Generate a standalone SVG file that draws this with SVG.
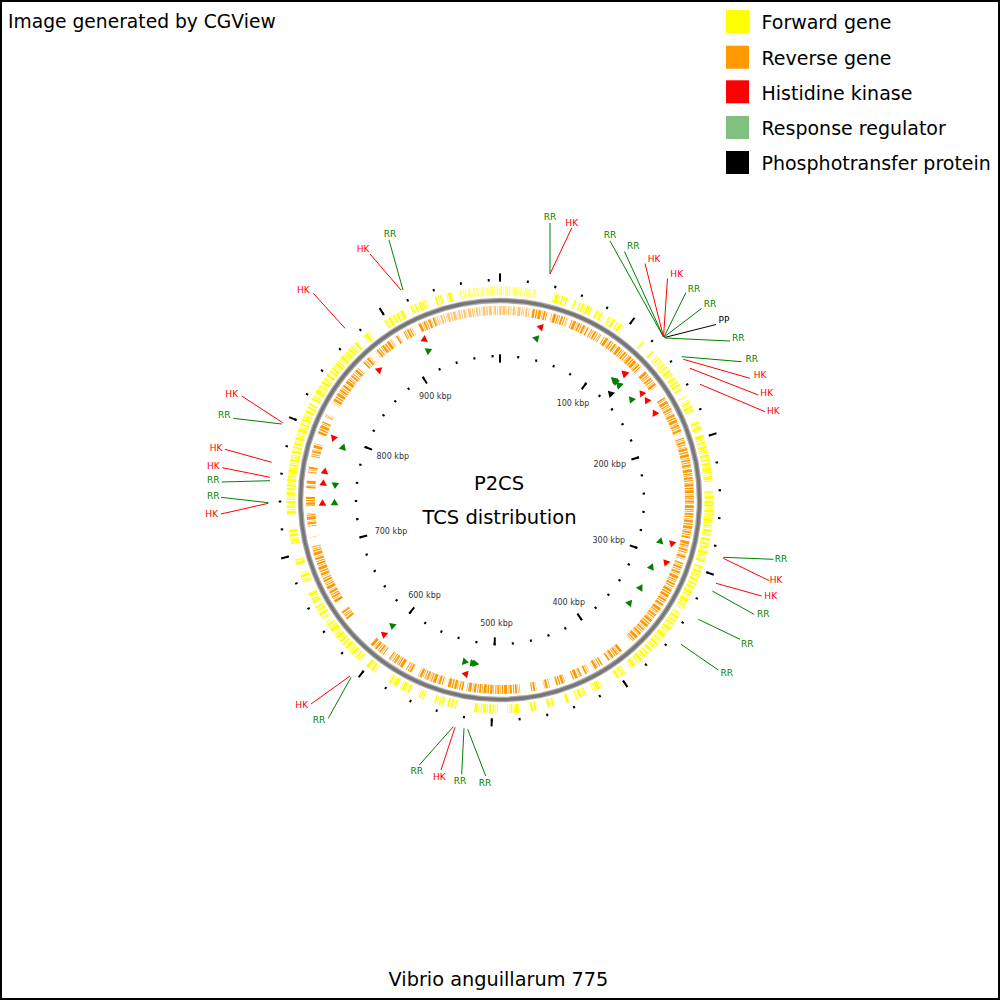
<svg xmlns="http://www.w3.org/2000/svg" xmlns:xlink="http://www.w3.org/1999/xlink" width="1000" height="1000" viewBox="0 0 1000 1000">
<style>
text{font-family:"DejaVu Sans","Liberation Sans",sans-serif}
.hk{fill:#ff0000}.rr{fill:#008000}.pp{fill:#000000}
.lhk{stroke:#ff0000}.lrr{stroke:#008000}.lpp{stroke:#000000}
#connectors line{stroke-width:1}
.lab{font-size:9px;text-anchor:middle}
.kbp{font-size:8px;fill:#333333;text-anchor:middle}
.leg{font-size:19px;fill:#000}
.ring{fill:none}
.tk{fill:none;stroke:#000}
</style>
<defs>
<path id="cw" d="M3.5,0 L-3,-3.8 L-3,3.8 Z"/>
<path id="ccw" d="M-3.5,0 L3,-3.8 L3,3.8 Z"/>
</defs>
<rect x="0" y="0" width="1000" height="1000" fill="#ffffff"/>
<rect x="1" y="1" width="998" height="998" fill="none" stroke="#000" stroke-width="2"/>
<text x="8" y="28" font-size="18.7">Image generated by CGView</text>
<text x="498.5" y="986" font-size="19.3" text-anchor="middle">Vibrio anguillarum 775</text>

<g id="legend">
<rect x="726" y="10" width="23" height="23" fill="#ffff00"/>
<text class="leg" x="761.5" y="29.3">Forward gene</text>
<rect x="726" y="45.7" width="23" height="23" fill="#ff9900"/>
<text class="leg" x="761.5" y="65">Reverse gene</text>
<rect x="726" y="80.3" width="23" height="23" fill="#ff0000"/>
<text class="leg" x="761.5" y="100">Histidine kinase</text>
<rect x="726" y="116" width="23" height="23" fill="#7fbf7f"/>
<text class="leg" x="761.5" y="135">Response regulator</text>
<rect x="726" y="151" width="23" height="23" fill="#000000"/>
<text class="leg" x="761.5" y="170.3">Phosphotransfer protein</text>
</g>

<g id="map">
<g id="forward-genes" transform="rotate(-90 500 500)">
<circle class="ring" cx="500" cy="500" r="209" stroke="#ffff00" stroke-width="9" pathLength="988.135" stroke-dasharray="1.6 0.9 0.6 0.7 2.2 0.8 1.0 1.2 0.5 0.7 2.6 0.6 0.8 1.0 1.3 0.7 0.5 0.9 1.9 0.8 1.1 0.6 0.7 1.3 2.0 0.8 0.4 0.6 1.4 1.1"/>
<circle class="ring" cx="500" cy="500" r="209" stroke="#ffffff" stroke-width="10" pathLength="988.135" stroke-dasharray="0 27.4 11.9 11.8 4.1 2.4 2.8 11 2.7 7.2 3 5.7 1.7 6 17 2.8 7.4 2.7 2.8 5.5 1.3 11.8 1.4 11 4.7 1.3 2.8 9.6 6.8 8.3 2.7 35.7 6.9 53.5 2.7 35.7 2.8 54.9 5.5 8.2 11 8.2 5.5 8.2 5.5 2.8 8.2 5.5 8.2 5.5 7.7 8.8 7.2 17.5 13.7 6.9 2.7 6.9 8.2 5.5 5.5 8.2 2.8 8.2 11 8.2 5.5 38.4 2.8 11 2.7 8.2 8.3 8.2 5.5 5.5 11 10.9 11 85.1 2.8 54.9 5.4 5.5 13.8 16.4 5.5 13.7 5.5 5.5 2.8 5.4 5.6 30.1"/>
<circle class="ring" cx="500" cy="500" r="209" stroke="#ffffff" stroke-opacity="0.45" stroke-width="10" pathLength="988.135" stroke-dasharray="28 924.1 40"/>
</g>
<g id="reverse-genes" transform="rotate(-90 500 500)">
<circle class="ring" cx="500" cy="500" r="189.5" stroke="#ff9900" stroke-width="9" pathLength="988.135" stroke-dasharray="1.2 0.8 2.4 0.9 0.5 0.7 1.5 0.8 0.8 1.0 1.8 0.6 0.4 1.1 2.5 0.8 1.0 0.7 0.6 1.0 1.6 0.8 0.9 1.2 0.5 0.6 2.0 0.9"/>
<circle class="ring" cx="500" cy="500" r="189.5" stroke="#ffffff" stroke-width="10" pathLength="988.135" stroke-dasharray="0 24.7 1.7 12.9 2.7 14.5 3.1 15.3 2.0 9.6 2.7 39.8 2.8 16.4 11.0 32.9 2.8 83.7 1.4 16.4 2.8 76.8 11.0 13.7 5.5 8.3 4.1 4.1 2.7 8.3 5.5 8.2 5.5 5.5 5.5 5.5 8.2 43.9 2.8 13.7 2.7 22.0 5.5 5.5 2.7 13.7 5.5 13.7 27.5 8.2 8.3 49.4 6.9 1.0 8.5 11.0 5.5 8.2 6.9 6.9 5.4 5.5 8.3 11.0 8.2 11.0 4.1 2.7 9.6 35.7 5.5 8.3 5.4 16.5 4.1 2.8 4.1 8.2 5.5 68.6"/>
<circle class="ring" cx="500" cy="500" r="189.5" stroke="#ffffff" stroke-opacity="0.45" stroke-width="10" pathLength="988.135" stroke-dasharray="24.7 908.5 60"/>
</g>
<g id="backbone">
<circle class="ring" cx="500" cy="500" r="199.5" stroke="#a8a8a8" stroke-width="5.5"/>
<circle class="ring" cx="500" cy="500" r="199.5" stroke="#767676" stroke-width="3"/>
</g>
<g id="rulers" transform="rotate(-90 500 500)">
<circle class="tk" cx="500" cy="500" r="220" stroke-width="2.5" pathLength="988.135" stroke-dasharray="1.4 18.6" stroke-dashoffset="0.7"/>
<circle class="tk" cx="500" cy="500" r="222.5" stroke-width="8" pathLength="988.135" stroke-dasharray="1.4 98.6" stroke-dashoffset="0.7"/>
<circle class="tk" cx="500" cy="500" r="144" stroke-width="2.4" pathLength="988.135" stroke-dasharray="2.2 17.8" stroke-dashoffset="1.1"/>
<circle class="tk" cx="500" cy="500" r="141.5" stroke-width="8" pathLength="988.135" stroke-dasharray="2.2 97.8" stroke-dashoffset="1.1"/>
</g>
<line x1="500" y1="273.5" x2="500" y2="281.5" stroke="#000" stroke-width="2"/>
<line x1="500" y1="354.5" x2="500" y2="362.5" stroke="#000" stroke-width="2"/>
<g id="ruler-labels">
<text class="kbp" x="573" y="405.7">100 kbp</text>
<text class="kbp" x="609.7" y="467.3">200 kbp</text>
<text class="kbp" x="608.8" y="543">300 kbp</text>
<text class="kbp" x="568.7" y="604.7">400 kbp</text>
<text class="kbp" x="496.5" y="625.5">500 kbp</text>
<text class="kbp" x="424.5" y="598">600 kbp</text>
<text class="kbp" x="391" y="534">700 kbp</text>
<text class="kbp" x="392.8" y="458.7">800 kbp</text>
<text class="kbp" x="435.3" y="399">900 kbp</text>
</g>
<text x="499" y="490" font-size="19.5" text-anchor="middle">P2CS</text>
<text x="499.5" y="524.3" font-size="19.5" text-anchor="middle">TCS distribution</text>
</g>

<g id="connectors">
<line class="lrr" x1="550" y1="223" x2="550" y2="274"/>
<line class="lhk" x1="571.7" y1="228" x2="550" y2="274"/>
<line class="lrr" x1="610" y1="241" x2="663.5" y2="337"/>
<line class="lrr" x1="624.5" y1="251.5" x2="663.5" y2="337"/>
<line class="lhk" x1="645" y1="263.5" x2="663.5" y2="337"/>
<line class="lhk" x1="667.5" y1="278.5" x2="663.5" y2="337"/>
<line class="lrr" x1="686" y1="292.5" x2="664" y2="337"/>
<line class="lrr" x1="701.5" y1="308.5" x2="664" y2="337"/>
<line class="lpp" x1="716" y1="324.5" x2="664.5" y2="337.5"/>
<line class="lrr" x1="730" y1="341" x2="665" y2="338"/>
<line class="lrr" x1="741.7" y1="361.7" x2="681.7" y2="356.7"/>
<line class="lhk" x1="750" y1="378.3" x2="683.3" y2="359.3"/>
<line class="lhk" x1="758.3" y1="395" x2="690" y2="368.3"/>
<line class="lhk" x1="765" y1="411.7" x2="700" y2="384.3"/>
<line class="lrr" x1="773.3" y1="559.3" x2="723.3" y2="557.3"/>
<line class="lhk" x1="769.3" y1="580.7" x2="723.3" y2="558.3"/>
<line class="lhk" x1="761.7" y1="596" x2="716" y2="583.3"/>
<line class="lrr" x1="754" y1="614.3" x2="712.3" y2="591"/>
<line class="lrr" x1="740" y1="639.3" x2="698.3" y2="619.3"/>
<line class="lrr" x1="718.3" y1="670" x2="681" y2="644.3"/>
<line class="lhk" x1="311" y1="704" x2="350" y2="676"/>
<line class="lrr" x1="328.3" y1="718.3" x2="351" y2="677.3"/>
<line class="lrr" x1="419.3" y1="765" x2="453.3" y2="726.7"/>
<line class="lhk" x1="441" y1="770" x2="455" y2="727.3"/>
<line class="lrr" x1="461.7" y1="774.3" x2="464" y2="728.3"/>
<line class="lrr" x1="485.7" y1="776" x2="467.7" y2="729.3"/>
<line class="lhk" x1="241.7" y1="396" x2="282.7" y2="422.7"/>
<line class="lrr" x1="233.3" y1="418.3" x2="281.7" y2="424"/>
<line class="lhk" x1="225" y1="449.3" x2="271.7" y2="462.3"/>
<line class="lhk" x1="222.3" y1="467.7" x2="270" y2="477.3"/>
<line class="lrr" x1="221.7" y1="482" x2="270" y2="480.7"/>
<line class="lrr" x1="221" y1="497.3" x2="268.3" y2="502.7"/>
<line class="lhk" x1="221" y1="514" x2="268.3" y2="503.3"/>
<line class="lhk" x1="313.3" y1="293.3" x2="345" y2="328.3"/>
<line class="lhk" x1="370" y1="254" x2="401" y2="290"/>
<line class="lrr" x1="389" y1="240" x2="403" y2="290"/>
</g>

<g id="f-rr01"><use href="#ccw" class="rr" transform="rotate(12.4 500 500) translate(500 334.5)"/><text class="lab rr" x="550" y="220">RR</text></g>
<g id="f-hk01"><use href="#ccw" class="hk" transform="rotate(13 500 500) translate(500 322.5)"/><text class="lab hk" x="571.7" y="225.6">HK</text></g>
<g id="f-rr02"><use href="#ccw" class="rr" transform="rotate(43.4 500 500) translate(500 334.5)"/><text class="lab rr" x="610" y="238.3">RR</text></g>
<g id="f-rr03"><use href="#ccw" class="rr" transform="rotate(43.4 500 500) translate(500 334.5)"/><text class="lab rr" x="633.3" y="249.3">RR</text></g>
<g id="f-hk02"><use href="#ccw" class="hk" transform="rotate(44.3 500 500) translate(500 322.5)"/><text class="lab hk" x="654" y="261.6">HK</text></g>
<g id="f-hk03"><use href="#ccw" class="hk" transform="rotate(44.5 500 500) translate(500 322.5)"/><text class="lab hk" x="676.7" y="277.3">HK</text></g>
<g id="f-rr04"><use href="#ccw" class="rr" transform="rotate(44.1 500 500) translate(500 334.5)"/><text class="lab rr" x="694" y="291.6">RR</text></g>
<g id="f-rr05"><use href="#ccw" class="rr" transform="rotate(45.8 500 500) translate(500 334.5)"/><text class="lab rr" x="710" y="307.3">RR</text></g>
<g id="f-pp01"><use href="#ccw" class="pp" transform="rotate(45.9 500 500) translate(500 346.5)"/><text class="lab pp" x="724" y="323.3">PP</text></g>
<g id="f-rr06"><use href="#ccw" class="rr" transform="rotate(45.8 500 500) translate(500 334.5)"/><text class="lab rr" x="738.3" y="341">RR</text></g>
<g id="f-rr07"><use href="#ccw" class="rr" transform="rotate(52.4 500 500) translate(500 334.5)"/><text class="lab rr" x="751.7" y="361.6">RR</text></g>
<g id="f-hk04"><use href="#ccw" class="hk" transform="rotate(52.9 500 500) translate(500 322.5)"/><text class="lab hk" x="760" y="378.3">HK</text></g>
<g id="f-hk05"><use href="#ccw" class="hk" transform="rotate(55.7 500 500) translate(500 322.5)"/><text class="lab hk" x="766.7" y="396">HK</text></g>
<g id="f-hk06"><use href="#ccw" class="hk" transform="rotate(60.5 500 500) translate(500 322.5)"/><text class="lab hk" x="773.3" y="414">HK</text></g>
<g id="f-rr08"><use href="#ccw" class="rr" transform="rotate(104.2 500 500) translate(500 334.5)"/><text class="lab rr" x="781" y="561.6">RR</text></g>
<g id="f-hk07"><use href="#cw" class="hk" transform="rotate(104.4 500 500) translate(500 322.5)"/><text class="lab hk" x="776" y="583.3">HK</text></g>
<g id="f-hk08"><use href="#cw" class="hk" transform="rotate(110.9 500 500) translate(500 322.5)"/><text class="lab hk" x="770.7" y="599">HK</text></g>
<g id="f-rr09"><use href="#ccw" class="rr" transform="rotate(113.7 500 500) translate(500 334.5)"/><text class="lab rr" x="763.3" y="616.6">RR</text></g>
<g id="f-rr10"><use href="#ccw" class="rr" transform="rotate(121.8 500 500) translate(500 334.5)"/><text class="lab rr" x="747.3" y="646.6">RR</text></g>
<g id="f-rr11"><use href="#ccw" class="rr" transform="rotate(128.3 500 500) translate(500 334.5)"/><text class="lab rr" x="726.7" y="676">RR</text></g>
<g id="f-rr12"><use href="#ccw" class="rr" transform="rotate(188.4 500 500) translate(500 334.5)"/><text class="lab rr" x="485" y="786">RR</text></g>
<g id="f-rr13"><use href="#ccw" class="rr" transform="rotate(189.3 500 500) translate(500 334.5)"/><text class="lab rr" x="460" y="784.3">RR</text></g>
<g id="f-hk09"><use href="#cw" class="hk" transform="rotate(191.4 500 500) translate(500 322.5)"/><text class="lab hk" x="439.3" y="780">HK</text></g>
<g id="f-rr14"><use href="#ccw" class="rr" transform="rotate(192 500 500) translate(500 334.5)"/><text class="lab rr" x="416.7" y="774.3">RR</text></g>
<g id="f-rr15"><use href="#cw" class="rr" transform="rotate(220.8 500 500) translate(500 334.5)"/><text class="lab rr" x="319" y="722.6">RR</text></g>
<g id="f-hk10"><use href="#cw" class="hk" transform="rotate(221 500 500) translate(500 322.5)"/><text class="lab hk" x="301.7" y="708.3">HK</text></g>
<g id="f-hk11"><use href="#cw" class="hk" transform="rotate(269.1 500 500) translate(500 322.5)"/><text class="lab hk" x="211.7" y="517.3">HK</text></g>
<g id="f-rr16"><use href="#cw" class="rr" transform="rotate(269.2 500 500) translate(500 334.5)"/><text class="lab rr" x="213.3" y="499.3">RR</text></g>
<g id="f-rr17"><use href="#ccw" class="rr" transform="rotate(275 500 500) translate(500 334.5)"/><text class="lab rr" x="213.3" y="483.3">RR</text></g>
<g id="f-hk12"><use href="#cw" class="hk" transform="rotate(275.6 500 500) translate(500 322.5)"/><text class="lab hk" x="213.3" y="469">HK</text></g>
<g id="f-hk13"><use href="#cw" class="hk" transform="rotate(279.4 500 500) translate(500 322.5)"/><text class="lab hk" x="216" y="450.6">HK</text></g>
<g id="f-rr18"><use href="#cw" class="rr" transform="rotate(288.7 500 500) translate(500 334.5)"/><text class="lab rr" x="224.3" y="418.3">RR</text></g>
<g id="f-hk14"><use href="#ccw" class="hk" transform="rotate(290.2 500 500) translate(500 322.5)"/><text class="lab hk" x="231.7" y="396.6">HK</text></g>
<g id="f-hk15"><use href="#cw" class="hk" transform="rotate(317.3 500 500) translate(500 322.5)"/><text class="lab hk" x="303.3" y="292.6">HK</text></g>
<g id="f-hk16"><use href="#ccw" class="hk" transform="rotate(334.5 500 500) translate(500 322.5)"/><text class="lab hk" x="363" y="252.3">HK</text></g>
<g id="f-rr19"><use href="#cw" class="rr" transform="rotate(334.6 500 500) translate(500 334.5)"/><text class="lab rr" x="390" y="237.3">RR</text></g>
</svg>
